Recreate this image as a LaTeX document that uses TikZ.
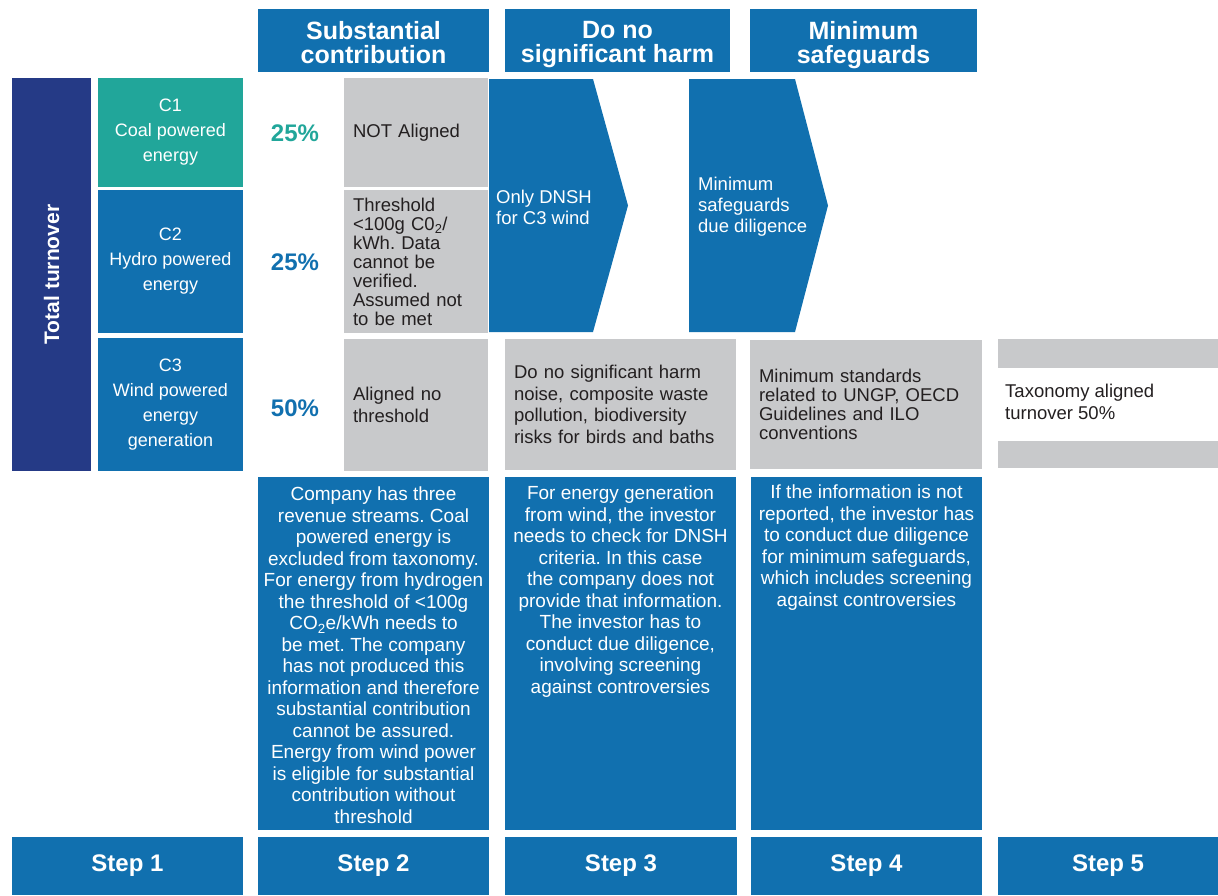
\documentclass[tikz,border=0pt]{standalone}
\usepackage{fontspec}
\setmainfont{Liberation Sans}
\usetikzlibrary{positioning}
\definecolor{stepblue}{HTML}{1170AF}
\definecolor{navyblue}{HTML}{253A86}
\definecolor{coalteal}{HTML}{21A69A}
\definecolor{boxgrey}{HTML}{C8C9CB}
\definecolor{textgrey}{HTML}{231F20}
\frenchspacing

\begin{document}
\begin{tikzpicture}[
    x=1pt, y=-1pt,
    header/.style={
        rectangle,
        fill=stepblue,
        minimum height=63pt
    },
    headtext/.style={
        text=white,
        inner sep=0pt,
        align=center,
        font=\fontsize{25}{24}\selectfont\bfseries
    },
    totalbox/.style={
        rectangle,
        fill=navyblue,
        text=white,
        rotate=90,
        minimum width=393pt,
        minimum height=79pt,
        font=\fontsize{21}{22}\selectfont\bfseries
    },
    category/.style={
        rectangle,
        fill=stepblue,
        text=white,
        minimum width=145pt,
        inner sep=0pt,
        align=center,
        font=\fontsize{18}{25}\selectfont
    },
    pct/.style={
        font=\fontsize{24}{24}\selectfont\bfseries,
        text=stepblue
    },
    greybox/.style={
        rectangle,
        fill=boxgrey,
        text=textgrey,
        inner xsep=9pt,
        inner ysep=0pt,
        align=left,
        font=\fontsize{18.5}{21.5}\selectfont
    },
    chevtext/.style={
        text=white,
        inner sep=0pt,
        align=left,
        font=\fontsize{18.5}{21}\selectfont
    },
    descbox/.style={
        rectangle,
        fill=stepblue,
        minimum height=353pt
    },
    desctext/.style={
        text=white,
        inner sep=0pt,
        align=center,
        font=\fontsize{19}{21.5}\selectfont
    },
    stepbox/.style={
        rectangle,
        fill=stepblue,
        text=white,
        minimum height=58pt,
        font=\fontsize{24}{24}\selectfont\bfseries
    }
]
\useasboundingbox (0,0) rectangle (1218,895);

% Column headers
\node[header, minimum width=231pt] (hsc) at (373.5,40.5) {};
\node[headtext, below=12pt of hsc.north] (hsctxt) {Substantial\\contribution};
\node[header, minimum width=225pt] (hdnsh) at (617.5,40.5) {};
\node[headtext, below=12pt of hdnsh.north] (hdnshtxt) {Do no\\significant harm};
\node[header, minimum width=227pt] (hms) at (863.5,40.5) {};
\node[headtext, below=12pt of hms.north] (hmstxt) {Minimum\\safeguards};

% Step 1: turnover and revenue streams
\node[totalbox] (total) at (51.5,274.5) {Total turnover};
\node[category, fill=coalteal, minimum height=109pt] (c1) at (170.5,132.5) {C1\\Coal powered\\energy};
\node[category, minimum height=143pt] (c2) at (170.5,261.5) {C2\\Hydro powered\\energy};
\node[category, minimum height=133pt] (c3) at (170.5,404.5) {C3\\Wind powered\\energy\\generation};

% Shares
\node[pct, text=coalteal] (p1) at (295,133) {25\%};
\node[pct] (p2) at (295,262) {25\%};
\node[pct] (p3) at (295,408) {50\%};

% Step 2: substantial contribution
\node[greybox, minimum width=144pt, minimum height=109pt, text width=126pt] (g1) at (416,132.5) {NOT Aligned};
\node[greybox, minimum width=144pt, minimum height=143pt, text width=126pt, font=\fontsize{18.5}{19}\selectfont] (g2) at (416,261.5) {Threshold\\<100g C0\textsubscript{2}/\\kWh. Data\\cannot be\\verified.\\Assumed not\\to be met};
\node[greybox, minimum width=144pt, minimum height=132pt, text width=126pt] (g3) at (416,405) {Aligned no\\threshold};

% Chevrons
\fill[stepblue] (489,79) -- (593,79) -- (628,205.5) -- (593,332) -- (489,332) -- cycle;
\node[chevtext, anchor=west] (dnshtxt) at (496,207) {Only DNSH\\for C3 wind};
\fill[stepblue] (689,79) -- (795,79) -- (828,205.5) -- (795,332) -- (689,332) -- cycle;
\node[chevtext, anchor=west] (mstxt) at (698,207) {Minimum\\safeguards\\due diligence};

% Steps 3 to 5: findings
\node[greybox, minimum width=231pt, minimum height=131pt, text width=213pt] (g4) at (620.5,404.5) {Do no significant harm\\noise, composite waste\\pollution, biodiversity\\risks for birds and baths};
\node[greybox, minimum width=232pt, minimum height=129pt, text width=214pt, font=\fontsize{18.5}{19}\selectfont] (g5) at (866,404) {Minimum standards\\related to UNGP, OECD\\Guidelines and ILO\\conventions};
\node[greybox, minimum width=220pt, minimum height=29pt] (bar1) at (1108,353.5) {};
\node[greybox, minimum width=220pt, minimum height=27pt] (bar2) at (1108,454.5) {};
\node[greybox, fill=none, anchor=west, inner xsep=0pt] (taxo) at (1005,402) {Taxonomy aligned\\turnover 50\%};

% Explanations
\node[descbox, minimum width=231pt] (dsc) at (373.5,653.5) {};
\node[desctext, below=10pt of dsc.north] (dsctxt) {Company has three\\revenue streams. Coal\\powered energy is\\excluded from taxonomy.\\For energy from hydrogen\\the threshold of <100g\\CO\textsubscript{2}e/kWh needs to\\be met. The company\\has not produced this\\information and therefore\\substantial contribution\\cannot be assured.\\Energy from wind power\\is eligible for substantial\\contribution without\\threshold};
\node[descbox, minimum width=231pt] (ddnsh) at (620.5,653.5) {};
\node[desctext, below=9pt of ddnsh.north] (ddnshtxt) {For energy generation\\from wind, the investor\\needs to check for DNSH\\criteria. In this case\\the company does not\\provide that information.\\The investor has to\\conduct due diligence,\\involving screening\\against controversies};
\node[descbox, minimum width=231pt] (dms) at (866.5,653.5) {};
\node[desctext, below=8pt of dms.north] (dmstxt) {If the information is not\\reported, the investor has\\to conduct due diligence\\for minimum safeguards,\\which includes screening\\against controversies};

% Steps
\node[stepbox, minimum width=231pt] (s1) at (127.5,866) {Step 1};
\node[stepbox, minimum width=231pt] (s2) at (373.5,866) {Step 2};
\node[stepbox, minimum width=232pt] (s3) at (621,866) {Step 3};
\node[stepbox, minimum width=231pt] (s4) at (866.5,866) {Step 4};
\node[stepbox, minimum width=220pt] (s5) at (1108,866) {Step 5};

\end{tikzpicture}
\end{document}
